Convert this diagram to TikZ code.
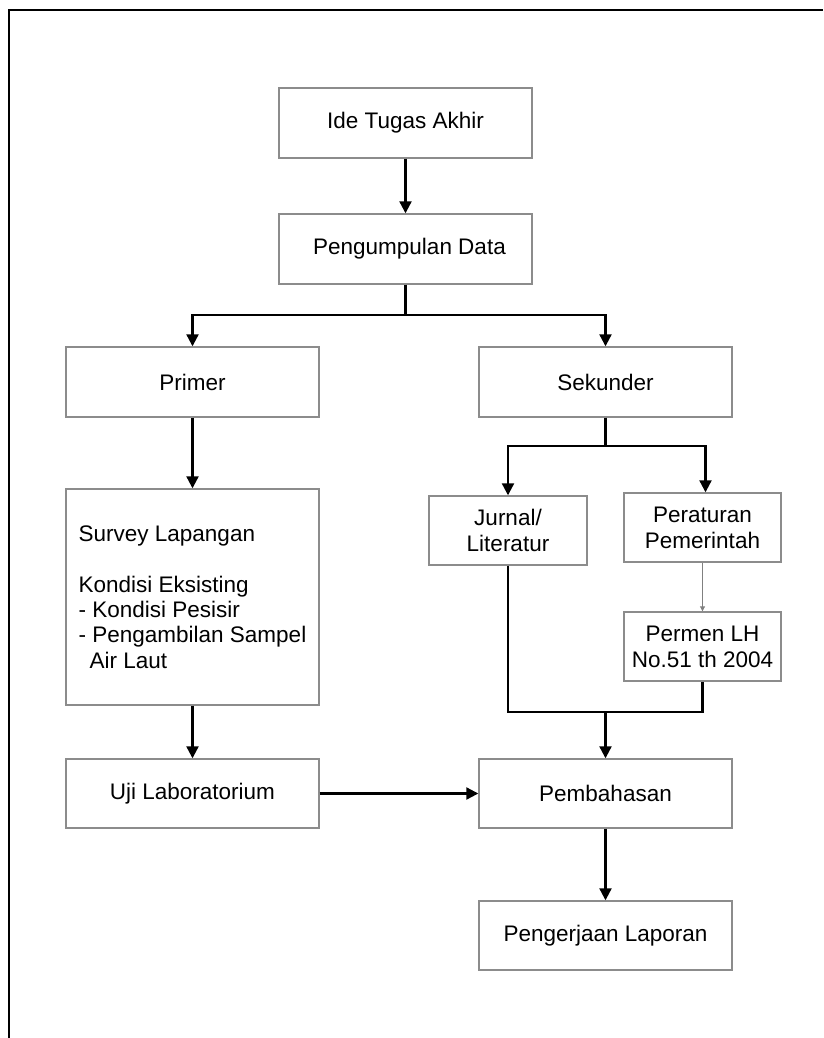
\documentclass[tikz,border=0pt]{standalone}
\usepackage{fontspec}
\setmainfont{Liberation Sans}
\usetikzlibrary{arrows.meta}

\tikzset{
  box/.style={draw=gray!90, line width=1.4pt, minimum width=253pt, minimum height=70pt,
    inner sep=0pt, align=center, font=\fontsize{22.5}{26}\selectfont},
  smallbox/.style={box, minimum width=157pt, minimum height=69pt},
  link/.style={line width=2.2pt},
  flow/.style={link, -{Triangle[length=12pt,width=12pt]}},
  thinflow/.style={draw=gray, line width=0.9pt, -{Triangle[length=5pt,width=5pt]}}
}

\begin{document}
\begin{tikzpicture}[x=1pt, y=-1pt]
  \useasboundingbox (0,0) rectangle (823,1038);
  \draw[line width=1.6pt] (9,1038) -- (9,10) -- (823,10);

  \node[box] (ide) at (405.5,123) {Ide Tugas Akhir};
  \node[box] (data) at (405.5,249) {\hspace*{8pt}Pengumpulan Data};
  \node[box] (primer) at (192.5,382) {Primer};
  \node[box] (sekunder) at (605.5,382) {Sekunder};
  \node[box, minimum height=216pt, align=left,
        font=\fontsize{22.5}{25.4}\selectfont] (survey) at (192.5,597)
    {Survey Lapangan\\[25.4pt]Kondisi Eksisting\\- Kondisi Pesisir\\- Pengambilan Sampel\\\hspace*{11pt}Air Laut};
  \node[smallbox, minimum width=158pt] (jurnal) at (508,530.5) {Jurnal/\\Literatur};
  \node[smallbox] (aturan) at (702.5,527.5) {Peraturan\\Pemerintah};
  \node[smallbox] (permen) at (702.5,646.5) {Permen LH\\No.51 th 2004};
  \node[box, minimum height=69pt] (uji) at (192.5,793.5) {Uji Laboratorium};
  \node[box, minimum height=69pt] (bahas) at (605.5,793.5) {Pembahasan};
  \node[box, minimum height=69pt] (laporan) at (605.5,935.5) {Pengerjaan Laporan};

  \coordinate (split) at (405.5,315);
  \coordinate (cabang) at (605.5,446);
  \coordinate (gabung) at (605.5,712);

  \draw[flow] (ide) -- (data);
  \draw[link] (data) -- (split);
  \draw[flow] (split) -| (primer.north);
  \draw[flow] (split) -| (sekunder.north);
  \draw[flow] (primer) -- (survey);
  \draw[flow] (survey) -- (uji);
  \draw[link] (sekunder) -- (cabang);
  \draw[flow] (cabang) -| (jurnal.north);
  \draw[flow] (cabang) -| ([xshift=3pt]aturan.north);
  \draw[thinflow] (aturan) -- (permen);
  \draw[link] (jurnal.south) |- (gabung) -| (permen.south);
  \draw[flow] (gabung) -- (bahas);
  \draw[flow] (uji) -- (bahas);
  \draw[flow] (bahas) -- (laporan);
\end{tikzpicture}
\end{document}
